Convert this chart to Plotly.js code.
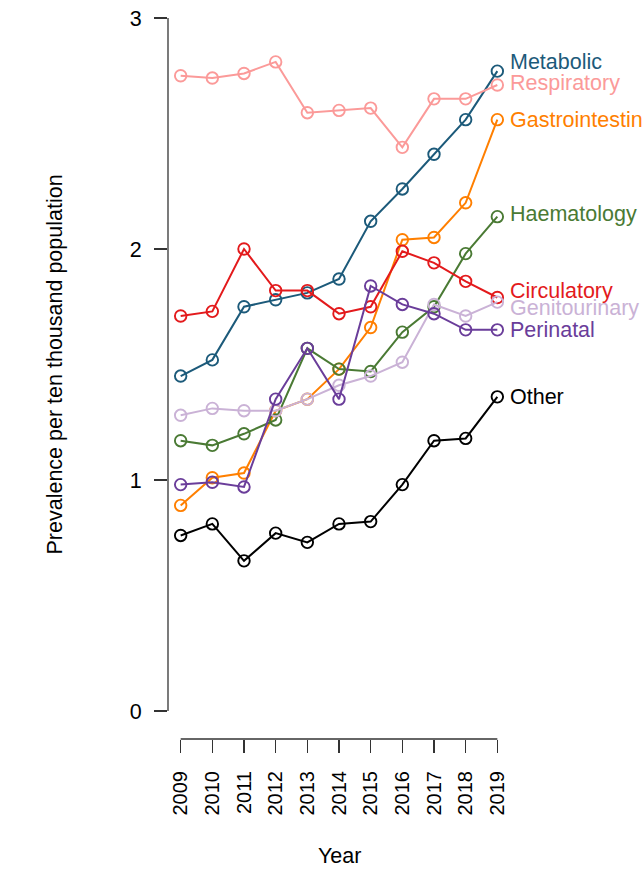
<!DOCTYPE html>
<html>
<head>
<meta charset="utf-8">
<script src="https://cdn.plot.ly/plotly-3.0.1.min.js"></script>
<style>html,body{margin:0;padding:0;background:#fff;}#chart{width:642px;height:871px;}</style>
</head>
<body>
<div id="chart"></div>
<script>
const years = [2009, 2010, 2011, 2012, 2013, 2014, 2015, 2016, 2017, 2018, 2019];
const seriesNames = ["Metabolic", "Respiratory", "Gastrointestinal", "Haematology", "Circulatory", "Genitourinary", "Perinatal", "Other"];
const metabolic     = [1.45, 1.52, 1.75, 1.78, 1.81, 1.87, 2.12, 2.26, 2.41, 2.56, 2.77];
const respiratory   = [2.75, 2.74, 2.76, 2.81, 2.59, 2.60, 2.61, 2.44, 2.65, 2.65, 2.71];
const gastro        = [0.89, 1.01, 1.03, 1.30, 1.35, 1.48, 1.66, 2.04, 2.05, 2.20, 2.56];
const haematology   = [1.17, 1.15, 1.20, 1.26, 1.57, 1.48, 1.47, 1.64, 1.75, 1.98, 2.14];
const circulatory   = [1.71, 1.73, 2.00, 1.82, 1.82, 1.72, 1.75, 1.99, 1.94, 1.86, 1.79];
const genitourinary = [1.28, 1.31, 1.30, 1.30, 1.35, 1.41, 1.45, 1.51, 1.76, 1.71, 1.77];
const perinatal     = [0.98, 0.99, 0.97, 1.35, 1.57, 1.35, 1.84, 1.76, 1.72, 1.65, 1.65];
const other         = [0.76, 0.81, 0.65, 0.77, 0.73, 0.81, 0.82, 0.98, 1.17, 1.18, 1.36];
const labelY        = [2.81, 2.72, 2.56, 2.15, 1.82, 1.745, 1.65, 1.36];
const colors = ["#1C5A7A", "#FB9A99", "#FF7F00", "#4A7A34", "#E31A1C", "#CAB2D6", "#6A3D9A", "#000000"];
const yTicks = [0, 1, 2, 3];

const values = [metabolic, respiratory, gastro, haematology, circulatory, genitourinary, perinatal, other];
const FONT = "Liberation Sans, Arial, sans-serif";
const fs = 20;
const fsLab = 21.5;

const traces = values.map((v, i) => ({
  x: years, y: v, type: "scatter", mode: "lines+markers", name: seriesNames[i],
  line: {color: colors[i], width: 2},
  marker: {symbol: "circle-open", size: 11.5, color: colors[i], line: {width: 1.9, color: colors[i]}},
  cliponaxis: false, showlegend: false
}));

const annotations = seriesNames.map((n, i) => ({
  x: years[years.length - 1], y: labelY[i], xref: "x", yref: "y",
  text: n, showarrow: false, xanchor: "left", yanchor: "middle", xshift: 11,
  font: {family: FONT, size: fsLab, color: colors[i]}
}));
annotations.push({
  x: 0, xref: "paper", y: 1.5, yref: "y", text: "Prevalence per ten thousand population",
  textangle: -90, showarrow: false, xanchor: "center", yanchor: "middle", xshift: -114,
  font: {family: FONT, size: fsLab, color: "#000"}
});
annotations.push({
  x: 2014, xref: "x", y: 0, yref: "paper", text: "Year", showarrow: false,
  xanchor: "center", yanchor: "middle", yshift: -117,
  font: {family: FONT, size: fsLab, color: "#000"}
});

const shapes = [
  {type: "line", xref: "paper", yref: "y", x0: 0, x1: 0, y0: yTicks[0], y1: yTicks[yTicks.length - 1], line: {color: "#333", width: 1.3}},
  {type: "line", xref: "x", yref: "paper", x0: years[0], x1: years[years.length - 1], y0: 0, y1: 0, line: {color: "#333", width: 1.3}}
];

const layout = {
  width: 642, height: 871,
  margin: {l: 168, r: 132, t: 0, b: 132},
  paper_bgcolor: "#fff", plot_bgcolor: "#fff",
  font: {family: FONT, size: fs, color: "#000"},
  xaxis: {
    range: [2008.6, 2019.4], tickvals: years, ticktext: years.map(String), tickangle: -90,
    ticks: "outside", ticklen: 13, tickwidth: 1.3, tickcolor: "#333",
    showgrid: false, zeroline: false, showline: false, ticklabelstandoff: 10,
    tickfont: {family: FONT, size: fs, color: "#000"}
  },
  yaxis: {
    range: [-0.1212, 3.0779], tickvals: yTicks, ticktext: yTicks.map(String),
    ticks: "outside", ticklen: 13, tickwidth: 1.3, tickcolor: "#333",
    showgrid: false, zeroline: false, showline: false, ticklabelstandoff: 8,
    tickfont: {family: FONT, size: fsLab, color: "#000"}
  },
  annotations: annotations,
  shapes: shapes
};

Plotly.newPlot("chart", traces, layout, {staticPlot: true, displayModeBar: false});
</script>
</body>
</html>
